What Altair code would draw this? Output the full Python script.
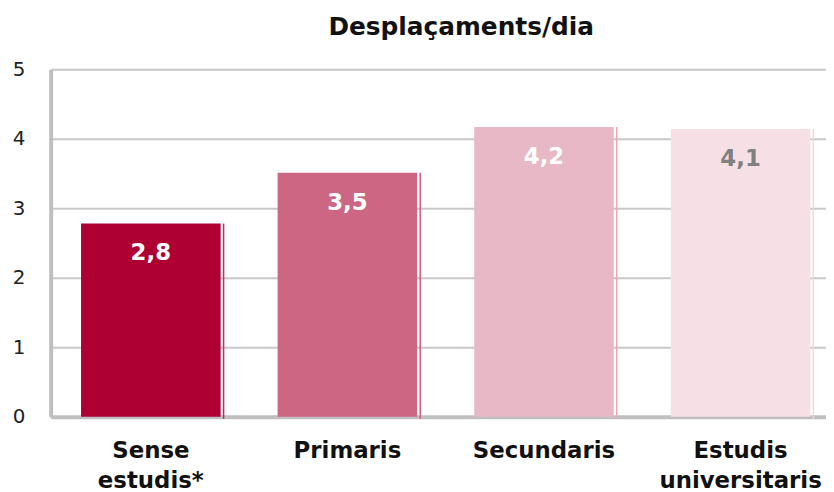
import altair as alt
import pandas as pd

categories = ["Sense\nestudis*", "Primaris", "Secundaris", "Estudis\nuniversitaris"]
values = [2.78, 3.51, 4.17, 4.14]
labels = ["2,8", "3,5", "4,2", "4,1"]
bar_colors = ["#AE0032", "#CD6683", "#E8B8C6", "#F6E0E6"]
edge_colors = ["#C42A55", "#D45A7C", "#EBA5B9", "#F5D5DE"]
label_colors = ["#FFFFFF", "#FFFFFF", "#FFFFFF", "#808080"]

df = pd.DataFrame({
    "cat": categories,
    "value": values,
    "label": labels,
    "bar_color": bar_colors,
    "edge_color": edge_colors,
    "label_color": label_colors,
})

FONT = "DejaVu Sans"

x = alt.X(
    "cat:N",
    sort=categories,
    scale=alt.Scale(paddingInner=0.29, paddingOuter=0.117, align=0.66),
    axis=alt.Axis(
        title=None,
        labelAngle=0,
        labelAlign="center",
        labelExpr="split(datum.label, '\\n')",
        labelFont=FONT,
        labelFontSize=23,
        labelFontWeight="bold",
        labelColor="#111111",
        labelLineHeight=30,
        labelPadding=23,
        labelBaseline="top",
        ticks=False,
        domainColor="#BFBFBF",
        domainWidth=4,
        grid=False,
    ),
)

y_scale = alt.Scale(domain=[0, 5], nice=False)

bars = alt.Chart(df).mark_bar().encode(
    x=x,
    y=alt.Y(
        "value:Q",
        scale=y_scale,
        axis=alt.Axis(
            title=None,
            values=[0, 1, 2, 3, 4, 5],
            format="d",
            labelFont=FONT,
            labelFontSize=20,
            labelColor="#222222",
            labelPadding=26,
            ticks=False,
            domainColor="#BFBFBF",
            domainWidth=4,
            gridColor="#C8C8C8",
            gridWidth=2,
        ),
    ),
    color=alt.Color("bar_color:N", scale=None),
)

edges = alt.Chart(df).mark_rule(strokeWidth=1.5, xOffset=3).encode(
    x=alt.X("cat:N", sort=categories, bandPosition=1),
    y=alt.Y("value:Q", scale=y_scale),
    y2=alt.datum(-0.03),
    color=alt.Color("edge_color:N", scale=None),
)

text = alt.Chart(df).mark_text(
    font=FONT, fontSize=23, fontWeight="bold", dy=30
).encode(
    x=alt.X("cat:N", sort=categories),
    y=alt.Y("value:Q", scale=y_scale),
    text="label:N",
    color=alt.Color("label_color:N", scale=None),
)

chart = (
    alt.layer(edges, bars, text)
    .properties(
        width=781,
        height=350,
        autosize=alt.AutoSizeParams(type="none"),
        padding={"left": 43, "top": 60, "right": 0, "bottom": 74},
        title=alt.Title(
            "Desplaçaments/dia",
            font=FONT,
            fontSize=25,
            fontWeight="bold",
            color="#111111",
            anchor="middle",
            dx=23,
            offset=20,
        ),
    )
    .configure_view(stroke=None)
)

chart.save("out.html", embed_options={"renderer": "svg", "actions": False})
